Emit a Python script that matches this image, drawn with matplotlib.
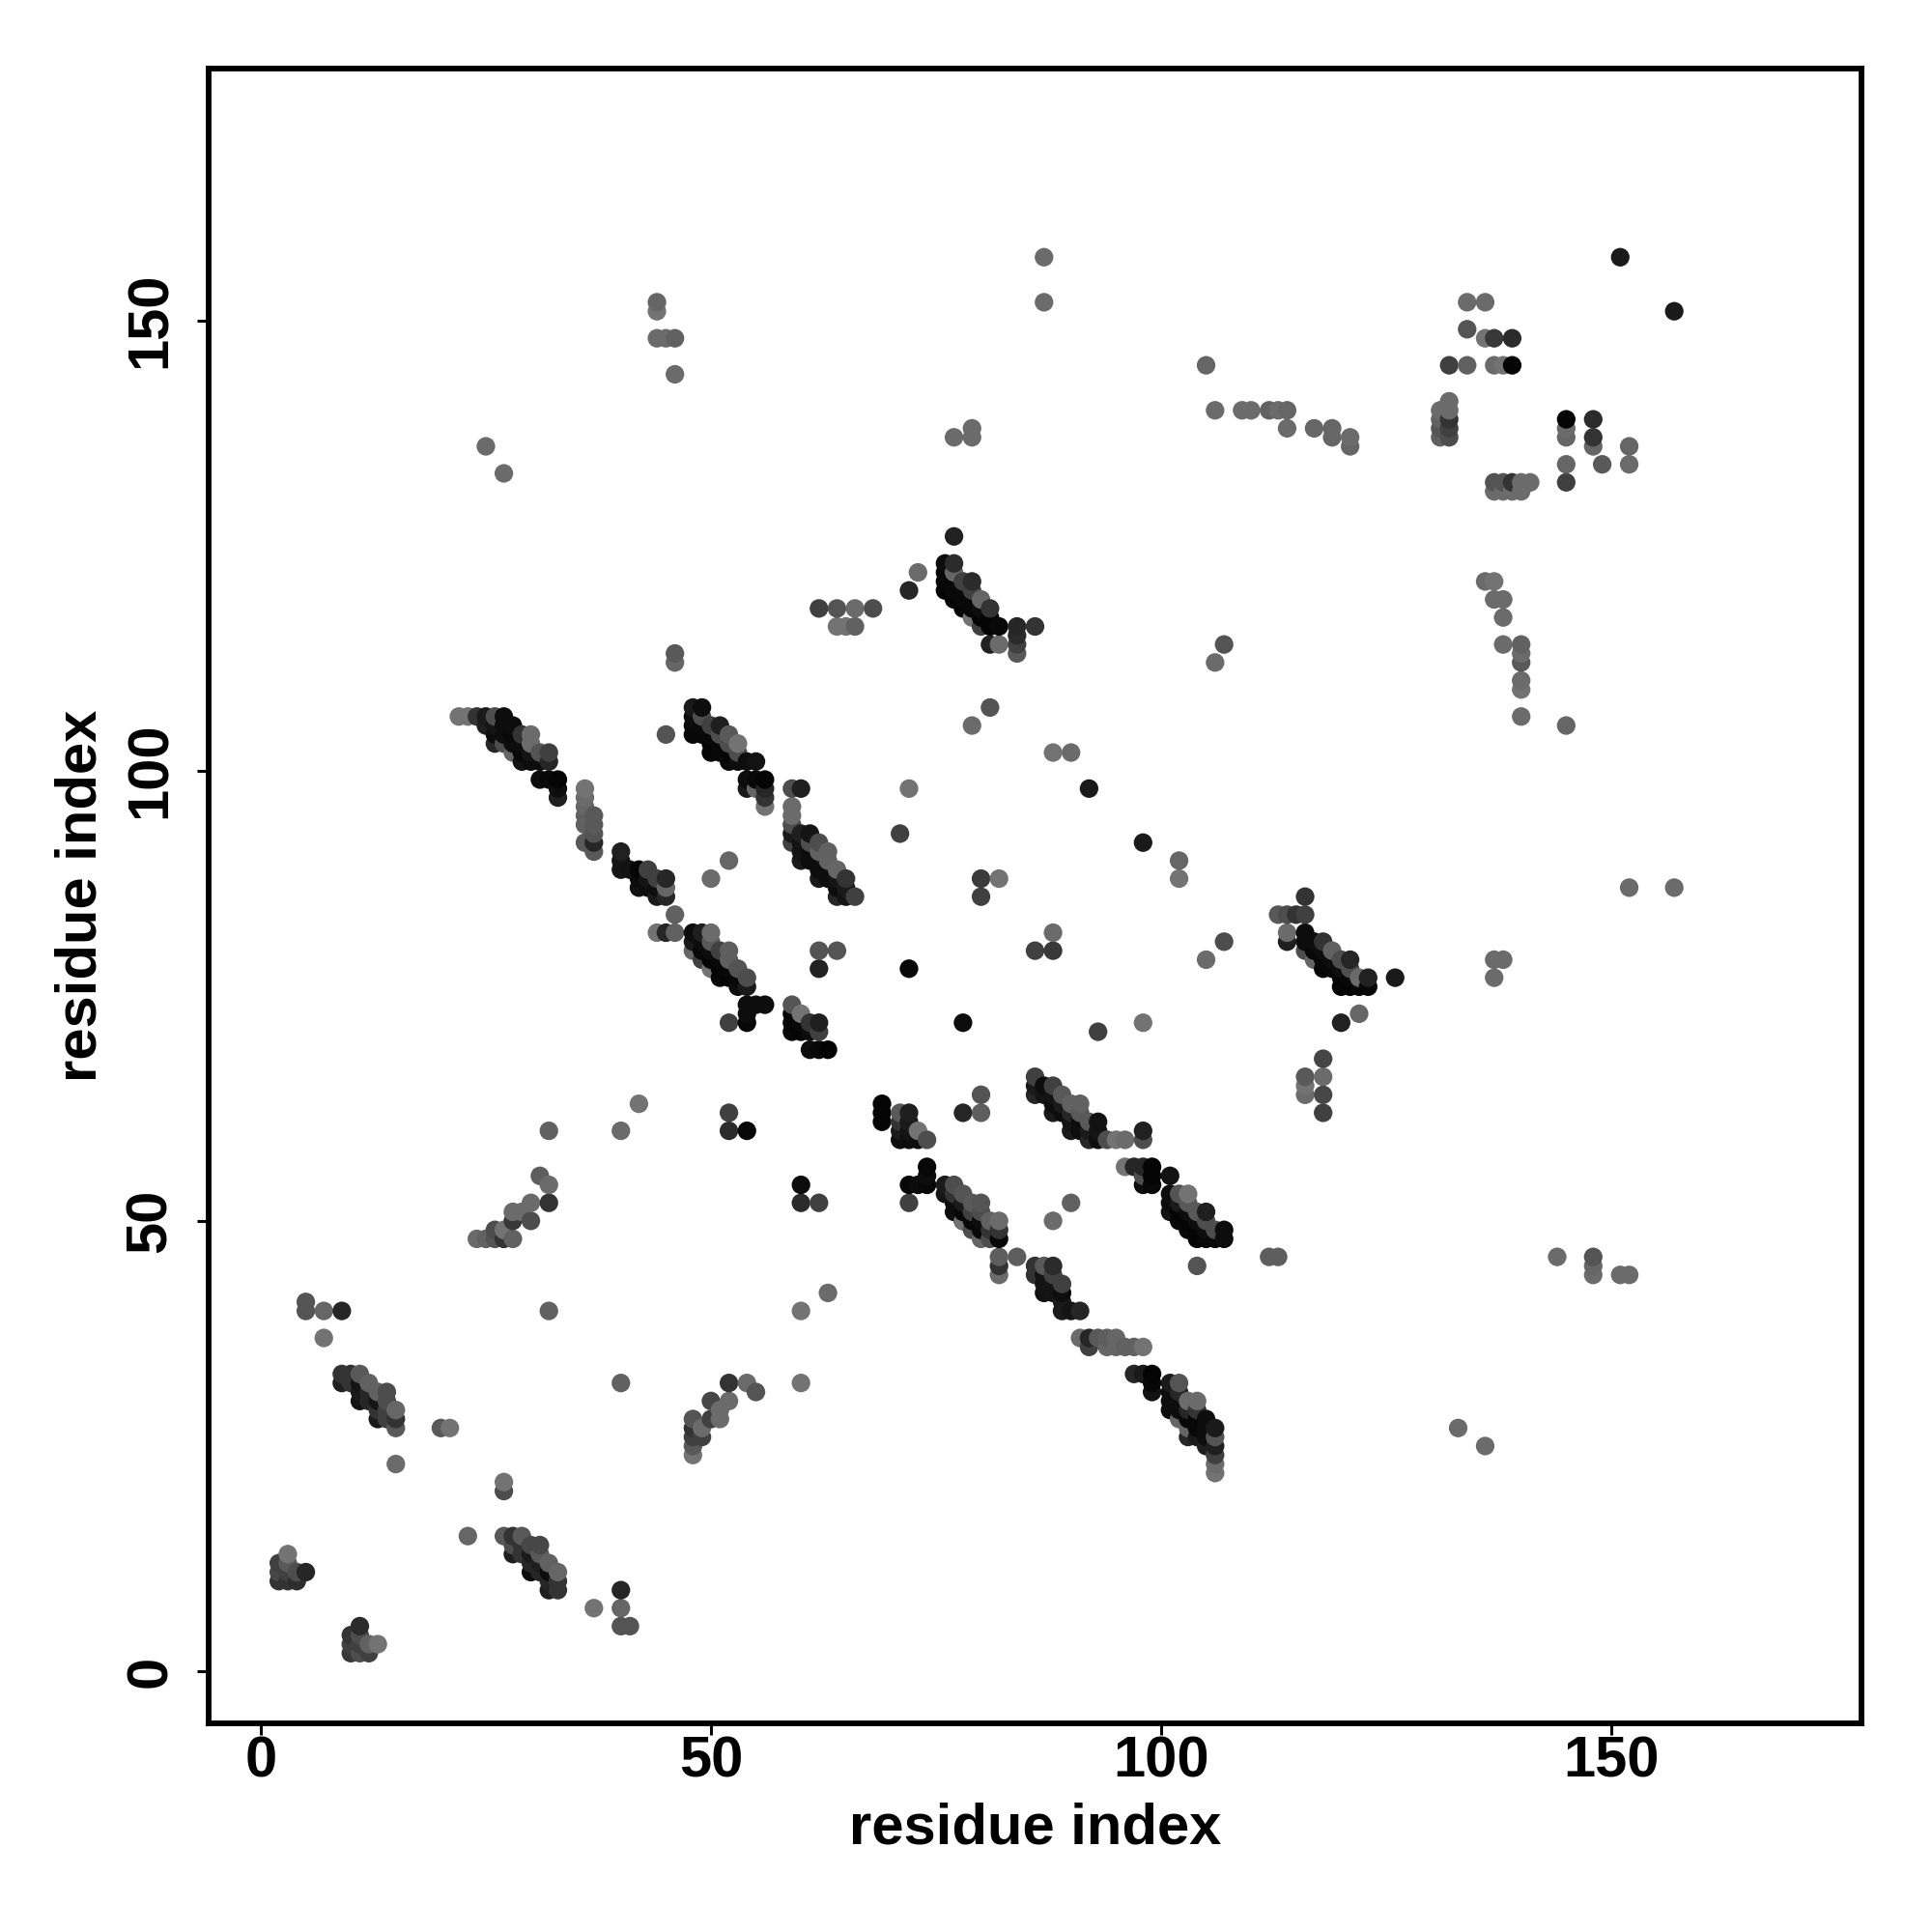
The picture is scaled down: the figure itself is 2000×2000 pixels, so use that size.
#!/usr/bin/env python
import numpy as np
import matplotlib
matplotlib.use('Agg')
import matplotlib.pyplot as plt

plt.rcParams['font.family'] = ['Liberation Sans', 'DejaVu Sans']

#Contact map: residue x, residue y, gray level
#lower left corner
x_low = [2,2,2,3,3,3,3,4,4,5, 10,10,10,11,11,11,11,12,12,13,
         9,9,10,10,11,11,11,11,12,12,12,13,13,13,13,14,14,14,14,15,15,15,
         27,28,28,28,29,29,29,30,30,30,30,31,31,31,31,32,32,32,32,33,33,33]
y_low = [12,11,10,13,12,11,10,11,10,11, 4,3,2,5,4,3,2,3,2,3,
         33,32,33,32,33,32,31,30,32,31,30,31,30,29,28,31,30,29,28,29,28,27,
         15,15,14,13,15,14,13,14,13,12,11,14,13,12,11,12,11,10,9,11,10,9]
g_low = [.25,.28,.2,.45,.35,.25,.2,.3,.18,.15, .2,.25,.22,.17,.3,.25,.3,.38,.25,.45,
         .2,.12,.2,.2,.35,.08,.1,.08,.38,.15,.15,.38,.08,.2,.1,.3,.3,.25,.25,.4,.2,.35,
         .35,.2,.3,.12,.35,.2,.2,.28,.1,.15,.05,.28,.35,.12,.15,.38,.05,.15,.12,.4,.2,.2]

#single points and small groups, bottom left
x_iso = [5,5,7,9,7,32,40,15,20,21,27,27,23,40,40,37,40,41,
         60,60,63,60,60,62,42,32,40,52,52,54,
         52,54,55,50,52,51,51,50,48,49,48,48,49,48,48,
         31,32,32,30,29,28,28,30,26,27,28,27,26,25,24]
y_iso = [40,41,40,40,37,40,32,23,27,27,21,20,15,9,7,7,5,5,
         32,40,42,54,52,52,63,60,60,62,60,60,
         32,32,31,30,30,29,28,28,28,27,27,26,26,25,24,
         55,54,52,52,51,51,50,50,49,49,48,48,48,48,48]
g_iso = [.33,.33,.4,.15,.45,.38,.38,.42,.35,.45,.45,.3,.4,.15,.4,.45,.33,.33,
         .45,.45,.42,.05,.17,.25,.45,.38,.42,.25,.17,.03,
         .2,.42,.33,.28,.42,.42,.42,.25,.33,.42,.2,.25,.25,.35,.45,
         .37,.42,.2,.42,.42,.42,.22,.3,.3,.45,.38,.2,.33,.38,.42]

#band 22-33 / 97-106 and the column next to it
x_a = [22,23,24,25,25,26,26,26,26,27,27,27,27,28,28,28,28,29,29,29,29,30,30,30,30,31,31,31,32,32,32,33,33,33,
       36,36,36,36,36,36,37,37,37,37,37]
y_a = [106,106,106,106,105,106,105,104,103,106,105,104,103,105,104,103,102,104,103,102,101,104,103,102,101,102,101,99,102,101,99,99,98,97,
       98,97,96,95,94,92,95,94,93,92,91]
g_a = [.45,.45,.2,.1,.12,.3,.08,.05,.15,.05,.05,.05,.3,.05,.03,.05,.4,.2,.05,.03,.08,.42,.42,.08,.05,.33,.05,.05,.25,.15,.03,.02,.05,.12,
       .45,.42,.4,.38,.38,.35,.35,.35,.33,.15,.35]

#band 40-63 / 69-91
x_b = [40,40,40,41,42,42,42,43,43,43,44,44,44,45,45,45,46,44,45,46,
       48,48,48,49,49,49,49,50,50,50,50,50,51,51,51,51,52,52,52,52,53,53,53,54,54,
       54,55,56,54,54,52,
       59,59,59,59,60,60,60,61,61,61,62,62,62,63]
y_b = [91,90,89,89,89,88,87,89,88,87,88,87,86,88,87,86,84,82,82,82,
       82,81,80,82,81,80,79,82,81,80,79,78,80,79,78,77,80,79,78,77,78,77,76,77,76,
       74,74,74,73,72,72,
       74,73,72,71,73,72,71,72,71,69,72,71,69,69]
g_b = [.13,.08,.08,.07,.02,.05,.07,.25,.08,.05,.25,.05,.1,.15,.4,.15,.38,.45,.15,.38,
       .05,.1,.4,.12,.05,.03,.25,.42,.35,.05,.02,.45,.25,.03,.02,.03,.37,.37,.03,.02,.33,.03,.05,.3,.1,
       .05,.05,.05,.05,.03,.25,
       .33,.02,.02,.03,.45,.03,.02,.2,.05,.05,.12,.25,.03,.01]

#band 48-56 / 96-107, with the points around it
x_d = [48,48,48,48,49,49,49,49,50,50,50,50,51,51,51,51,52,52,52,52,53,53,53,54,54,54,55,55,55,56,56,56,56,45,
       59,59,59,59,59,59,60,60,60,60,60,61,61,61,61,62,62,62,62,62,63,63,63,63,64,64,64,64,65,65,65,66,
       72,71,52,50,62,64,62,72]
y_d = [107,106,105,104,107,106,105,104,105,104,103,102,105,104,103,102,104,103,102,101,103,102,101,101,99,98,101,99,98,99,98,97,96,104,
       98,96,95,94,93,92,98,93,92,91,90,93,92,91,90,92,91,90,89,88,91,90,89,88,89,88,87,86,88,87,86,86,
       98,93,90,88,80,80,78,78]
g_d = [.1,.05,.04,.03,.05,.3,.04,.03,.25,.03,.02,.02,.12,.3,.03,.03,.35,.3,.02,.03,.45,.3,.05,.05,.05,.1,.07,.03,.4,.02,.15,.2,.45,.33,
       .3,.42,.42,.3,.1,.25,.12,.12,.07,.08,.1,.08,.3,.05,.05,.3,.38,.05,.05,.1,.38,.38,.05,.05,.4,.08,.05,.15,.2,.1,.08,.25,
       .45,.25,.4,.42,.33,.33,.13,.03]

#centre: 69-82 / 48-63
x_c = [69,69,69,71,71,71,71,72,72,72,72,73,73,74,
       72,73,74,74,74,72,
       76,76,77,77,77,77,78,78,78,78,78,79,79,79,79,80,80,80,80,80,81,81,81,82,82,82,
       82,82,82,84,90,88,80,80,78,78,93,98]
y_c = [63,62,61,62,61,60,59,62,60,59,61,60,59,59,
       54,54,56,55,54,52,
       54,53,54,53,52,51,53,52,51,50,50,52,51,50,49,52,51,50,49,48,50,49,48,50,49,48,
       46,45,44,46,52,50,64,62,62,72,71,72]
g_c = [.02,.02,.02,.35,.2,.1,.05,.12,.08,.05,.1,.45,.05,.3,
       .03,.05,.03,.05,.03,.25,
       .1,.08,.3,.2,.05,.05,.33,.1,.03,.03,.45,.35,.25,.03,.3,.33,.3,.05,.03,.4,.38,.2,.3,.42,.2,.03,
       .37,.2,.42,.37,.38,.42,.33,.37,.15,.05,.25,.45]

#band 86-107 / 48-66
x_f = [86,86,86,87,87,88,88,88,88,89,89,89,90,90,90,90,91,91,91,91,92,92,92,93,93,93,94,95,96,98,98,
       96,97,98,98,98,99,99,99,101,101,101,101,102,102,102,102,103,103,103,103,103,104,104,104,104,105,105,105,105,106,106,107,107,
       104,112,113]
y_f = [66,65,64,65,64,65,64,63,62,64,63,62,63,62,61,60,63,62,61,60,61,60,59,61,60,59,59,59,59,60,59,
       56,56,56,55,54,56,55,54,55,53,52,51,53,52,51,50,53,52,51,50,49,51,50,49,48,51,50,49,48,49,48,49,48,
       45,46,46]
g_f = [.25,.1,.15,.05,.08,.25,.08,.05,.1,.35,.1,.05,.38,.15,.08,.1,.38,.35,.05,.05,.35,.1,.15,.07,.08,.05,.3,.45,.42,.13,.3,
       .45,.15,.15,.3,.05,.02,.02,.03,.07,.05,.05,.08,.33,.1,.02,.03,.45,.35,.05,.02,.03,.35,.05,.02,.02,.12,.3,.05,.03,.3,.03,.05,.05,
       .33,.37,.37]

#band 86-106 / 22-45
x_h = [86,86,87,87,87,87,88,88,88,88,89,89,89,89,90,91,
       91,92,93,94,95,92,94,95,96,97,98,
       97,98,99,99,99,101,101,101,101,102,102,102,102,102,103,103,103,103,103,104,104,104,104,104,105,105,105,105,106,106,106,106,106,106]
y_h = [45,44,45,44,43,42,45,44,43,42,43,42,41,40,40,40,
       37,37,37,37,37,36,36,36,36,36,36,
       33,33,33,32,31,32,31,30,29,32,31,30,29,28,30,29,28,27,26,30,29,28,27,26,28,27,26,25,27,26,25,24,23,22]
g_h = [.2,.2,.35,.08,.08,.07,.17,.25,.08,.08,.25,.05,.1,.1,.08,.15,
       .42,.15,.35,.37,.4,.25,.4,.4,.38,.38,.45,
       .15,.1,.02,.03,.07,.1,.05,.05,.05,.33,.15,.05,.05,.4,.42,.15,.03,.4,.15,.42,.2,.03,.03,.1,.05,.05,.05,.12,.1,.33,.12,.25,.42,.45]

#band 76-86 / 113-126 and its neighbours
x_t = [76,76,76,76,77,77,77,77,77,77,78,78,78,78,79,79,79,79,79,80,80,80,80,81,81,81,81,82,82,84,84,84,84,86,
       73,72,62,64,66,68,64,65,66,107,106,81,79,88,90,92,98,102,102,80,82,80,88,86,88,107,105]
y_t = [123,122,121,120,126,123,122,121,120,119,121,120,119,118,121,120,119,118,117,119,118,117,116,118,117,116,114,116,114,116,115,114,113,116,
       122,120,118,118,118,118,116,116,116,114,112,107,105,102,102,98,92,90,88,88,88,86,82,80,80,81,79]
g_t = [.05,.03,.03,.02,.13,.17,.4,.03,.03,.02,.25,.03,.03,.02,.17,.25,.03,.03,.45,.4,.05,.02,.25,.2,.02,.02,.13,.03,.42,.15,.17,.25,.35,.2,
       .42,.15,.25,.33,.42,.3,.45,.45,.38,.33,.42,.33,.42,.45,.42,.1,.1,.4,.45,.23,.45,.25,.42,.25,.22,.3,.42]

#band 113-126 / 76-86, below it and right side
x_r = [113,114,115,116,116,114,114,116,116,116,117,117,117,118,118,118,118,119,119,119,120,120,120,120,121,121,121,121,122,122,123,123,126,
       120,122,118,116,116,116,118,118,118,137,138,137,133,136,144,148,148,148,151,152,152,157]
y_r = [84,84,84,86,84,82,81,82,81,80,81,80,79,81,80,79,78,80,79,78,79,78,77,76,79,78,77,76,77,76,77,76,77,
       72,73,68,66,65,64,66,64,62,79,79,77,27,25,46,46,45,44,44,44,87,87]
g_r = [.35,.3,.2,.2,.25,.42,.12,.05,.05,.3,.05,.03,.4,.2,.05,.03,.02,.38,.05,.03,.3,.05,.02,.02,.15,.3,.03,.02,.42,.03,.13,.03,.1,
       .13,.4,.27,.35,.45,.42,.42,.28,.25,.42,.42,.42,.42,.42,.42,.33,.4,.42,.42,.42,.42,.42]

#upper part of the map
x_u = [25,27,44,44,44,45,46,46,46,46,77,79,79,87,87,105,106,109,110,112,113,114,114,117,119,119,121,121,
       131,131,131,131,132,132,132,132,132,
       132,134,134,134,136,136,137,137,138,139,139,
       151,157,145,145,145,145,145,148,148,148,149,152,152,
       137,138,138,139,139,140,140,141,137,
       136,137,137,138,138,138,140,140,140,140,140,140,145]
y_u = [136,133,152,151,148,148,148,144,113,112,137,138,137,157,152,145,140,140,140,140,140,140,138,138,138,137,137,136,
       140,139,138,137,141,140,139,138,137,
       145,152,149,145,152,148,148,145,145,148,145,
       157,151,139,138,137,134,132,139,137,136,134,136,134,
       132,132,131,132,131,132,131,132,131,
       121,121,119,119,117,114,114,113,112,110,109,106,105]
g_u = [.42,.42,.4,.45,.42,.42,.38,.42,.35,.4,.42,.42,.42,.42,.42,.4,.42,.42,.42,.38,.42,.4,.42,.4,.4,.4,.42,.4,
       .42,.38,.33,.38,.42,.42,.2,.25,.3,
       .25,.42,.33,.38,.42,.45,.22,.42,.45,.17,.02,
       .1,.1,.02,.42,.4,.4,.25,.17,.2,.4,.35,.4,.42,
       .33,.33,.42,.2,.42,.42,.42,.42,.42,
       .42,.45,.42,.42,.42,.42,.38,.42,.35,.42,.45,.42,.4]

x_ticks = [0, 50, 100, 150]
y_ticks = [0, 50, 100, 150]
x_label = 'residue index'
y_label = 'residue index'

x = np.array(x_low + x_iso + x_a + x_b + x_d + x_c + x_f + x_h + x_t + x_r + x_u)
y = np.array(y_low + y_iso + y_a + y_b + y_d + y_c + y_f + y_h + y_t + y_r + y_u)
g = np.array(g_low + g_iso + g_a + g_b + g_d + g_c + g_f + g_h + g_t + g_r + g_u)

#later residues are painted over the earlier ones
order = np.lexsort((y, x))
colors = [str(v) for v in g[order]]

fig = plt.figure(figsize=(10, 10), dpi=200)
ax = fig.add_axes([216.3/2000, (2000-1783.7)/2000, (1927-216.3)/2000, (1783.7-71.4)/2000])
ax.scatter(x[order], y[order], s=48, c=colors, linewidths=0, clip_on=False)

ax.set_xlim(-5.76, 177.8)
ax.set_ylim(-5.76, 177.9)
ax.set_xticks(x_ticks)
ax.set_yticks(y_ticks)
ax.tick_params(axis='x', length=4.2, width=1.1, pad=0.5, labelsize=21.5)
ax.tick_params(axis='y', length=4.2, width=1.1, pad=7.5, labelsize=21.5)
for lab in ax.get_xticklabels():
    lab.set_fontweight('bold')
for lab in ax.get_yticklabels():
    lab.set_fontweight('bold')
    lab.set_rotation(90)
    lab.set_va('center')
for sp in ax.spines.values():
    sp.set_linewidth(2.1)

ax.set_xlabel(x_label, size=21.5, fontweight='bold')
ax.set_ylabel(y_label, size=21.5, fontweight='bold')
ax.xaxis.set_label_coords(0.5, -0.048, transform=ax.transAxes)
ax.yaxis.set_label_coords(-0.061, 0.5, transform=ax.transAxes)

fig.savefig('out.png', dpi=200)
